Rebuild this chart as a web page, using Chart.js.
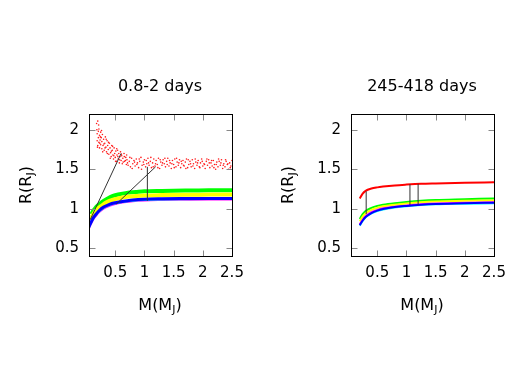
<!DOCTYPE html>
<html>
<head>
<meta charset="utf-8">
<script src="https://cdn.jsdelivr.net/npm/chart.js@4.4.0/dist/chart.umd.min.js"></script>
<style>
  html, body { margin: 0; padding: 0; background: #fff; }
  #wrap { position: relative; width: 525px; height: 392px; overflow: hidden; font-family: "DejaVu Sans", sans-serif; color: #000; }
  .pane { position: absolute; top: 0; width: 262px; height: 392px; }
  .lbl { position: absolute; font-size: 16px; line-height: 1; white-space: nowrap; transform: translate(-50%, -50%); }
  .lbl.rot { transform: translate(-50%, -50%) rotate(-90deg); }
  .lbl sub { font-size: 11px; vertical-align: -3px; line-height: 0; }
</style>
</head>
<body>
<div id="wrap">
  <div class="pane" style="left:0"><canvas id="left" width="262" height="392"></canvas></div>
  <div class="pane" style="left:262px"><canvas id="right" width="262" height="392"></canvas></div>
  <div class="lbl" id="t0" style="left:160px;top:86px"></div>
  <div class="lbl" id="t1" style="left:422px;top:86px"></div>
  <div class="lbl" style="left:160px;top:305px">M(M<sub>J</sub>)</div>
  <div class="lbl" style="left:422px;top:305px">M(M<sub>J</sub>)</div>
  <div class="lbl rot" style="left:26px;top:185px">R(R<sub>J</sub>)</div>
  <div class="lbl rot" style="left:288px;top:185px">R(R<sub>J</sub>)</div>
</div>
<script>
// panel titles and ticks
var titles = ['0.8-2 days', '245-418 days'];
var xTicks = [0.5, 1, 1.5, 2, 2.5];
var yTicks = [0.5, 1, 1.5, 2];

// left panel: red cloud [M, R]
var leftRed = [
  [0.18,2.08],[0.19,1.95],[0.19,1.86],[0.20,2.11],[0.20,1.80],[0.21,1.98],[0.21,1.90],[0.22,1.84],[0.22,2.01],[0.23,1.77],
  [0.23,1.93],[0.24,1.87],[0.25,1.97],[0.25,1.81],[0.26,1.90],[0.27,1.76],[0.27,1.85],[0.28,1.94],[0.29,1.80],[0.30,1.88],
  [0.31,1.74],[0.32,1.83],[0.33,1.91],[0.34,1.78],[0.35,1.72],[0.36,1.86],[0.37,1.80],[0.38,1.75],[0.39,1.69],[0.40,1.83],
  [0.41,1.77],[0.42,1.71],[0.43,1.66],[0.44,1.80],[0.45,1.74],[0.46,1.68],[0.47,1.63],[0.48,1.77],[0.49,1.70],[0.50,1.65],
  [0.51,1.73],[0.52,1.60],[0.53,1.68],[0.54,1.74],[0.55,1.63],[0.56,1.70],[0.57,1.58],[0.58,1.66],[0.59,1.72],[0.60,1.61],
  [0.61,1.67],[0.62,1.57],[0.63,1.64],[0.65,1.70],[0.66,1.60],[0.68,1.65],[0.69,1.56],
  [0.185,2.00],[0.195,1.78],[0.215,2.06],[0.235,1.83],[0.245,1.91],[0.265,1.99],[0.285,1.72],[0.305,1.82],[0.325,1.77],
  [0.345,1.88],[0.365,1.70],[0.385,1.84],[0.415,1.64],[0.435,1.73],[0.455,1.79],[0.475,1.67],[0.505,1.60],[0.525,1.76],
  [0.545,1.66],[0.575,1.62],[0.605,1.69],[0.635,1.59],[0.655,1.66],[0.675,1.61],[0.695,1.68],
  [0.70,1.62],[0.72,1.55],[0.74,1.60],[0.76,1.53],[0.78,1.64],[0.80,1.57],[0.82,1.61],[0.84,1.54],[0.86,1.63],[0.88,1.58],
  [0.90,1.52],[0.92,1.60],[0.94,1.65],[0.96,1.55],[0.98,1.59],[1.00,1.62],[1.02,1.53],[1.04,1.57],[1.06,1.64],[1.08,1.55],
  [1.10,1.60],[1.12,1.52],[1.14,1.58],[1.16,1.63],[1.18,1.54],[1.20,1.61],[1.22,1.56],[1.24,1.64],[1.26,1.51],[1.28,1.59],
  [1.30,1.55],[1.32,1.62],[1.34,1.57],[1.36,1.53],[1.38,1.60],[1.40,1.64],[1.42,1.54],[1.44,1.58],[1.46,1.51],[1.48,1.61],
  [1.50,1.56],[1.52,1.63],[1.54,1.53],[1.56,1.59],[1.58,1.55],[1.60,1.62],[1.62,1.52],[1.64,1.57],[1.66,1.61],[1.68,1.54],
  [1.70,1.59],[1.72,1.63],[1.74,1.52],[1.76,1.56],[1.78,1.60],[1.80,1.53],[1.82,1.62],[1.84,1.57],[1.86,1.51],[1.88,1.59],
  [1.90,1.55],[1.92,1.61],[1.94,1.53],[1.96,1.58],[1.98,1.63],[2.00,1.54],[2.02,1.57],[2.04,1.51],[2.06,1.60],[2.08,1.55],
  [2.10,1.62],[2.12,1.52],[2.14,1.58],[2.16,1.54],[2.18,1.61],[2.20,1.56],[2.22,1.50],[2.24,1.59],[2.26,1.53],[2.28,1.60],
  [2.30,1.55],[2.32,1.62],[2.34,1.51],[2.36,1.57],[2.38,1.53],[2.40,1.60],[2.42,1.56],[2.44,1.50],[2.46,1.58],[2.48,1.54],
  [2.50,1.61],
  [0.71,1.58],[0.75,1.65],[0.79,1.51],[0.83,1.59],[0.87,1.56],[0.91,1.63],[0.95,1.50],[0.99,1.56],[1.03,1.61],[1.07,1.58],
  [1.11,1.65],[1.15,1.53],[1.19,1.57],[1.23,1.52],[1.27,1.62],[1.31,1.58],[1.35,1.64],[1.39,1.56],[1.43,1.61],[1.47,1.57],
  [1.51,1.52],[1.55,1.64],[1.59,1.58],[1.63,1.60],[1.67,1.55],[1.71,1.51],[1.75,1.62],[1.79,1.57],[1.83,1.54],[1.87,1.63],
  [1.91,1.58],[1.95,1.52],[1.99,1.60],[2.03,1.56],[2.07,1.63],[2.11,1.58],[2.15,1.61],[2.19,1.52],[2.23,1.56],[2.27,1.63],
  [2.31,1.58],[2.35,1.55],[2.39,1.62],[2.43,1.57],[2.47,1.52]
];

// left panel: dense bands [M, R]
var leftGreen = [[0.09,0.93],[0.12,0.97],[0.15,1.00],[0.2,1.04],[0.265,1.08],[0.35,1.12],[0.45,1.16],[0.55,1.18],[0.7,1.20],
  [0.85,1.21],[1.0,1.22],[1.3,1.225],[1.7,1.23],[2.1,1.232],[2.5,1.235]];
var leftYellow = [[0.07,0.86],[0.1,0.90],[0.14,0.95],[0.2,1.00],[0.27,1.04],[0.35,1.08],[0.45,1.11],[0.55,1.13],[0.7,1.15],
  [0.85,1.16],[1.0,1.167],[1.3,1.172],[1.7,1.176],[2.1,1.178],[2.5,1.18]];
var leftBlue = [[0.05,0.77],[0.08,0.82],[0.12,0.88],[0.17,0.93],[0.23,0.98],[0.3,1.02],[0.4,1.055],[0.5,1.075],[0.65,1.095],
  [0.8,1.11],[1.0,1.12],[1.3,1.125],[1.7,1.128],[2.1,1.13],[2.5,1.13]];
var leftMagenta = [[0.05,0.75],[0.08,0.80],[0.12,0.86],[0.17,0.91],[0.23,0.96],[0.3,1.0],[0.4,1.035],[0.5,1.06],[0.65,1.08],
  [0.8,1.095],[1.0,1.105],[1.3,1.11],[1.7,1.113],[2.1,1.115],[2.5,1.115]];
var leftCyan = [[0.05,0.76],[0.08,0.81],[0.12,0.87],[0.17,0.92],[0.23,0.97],[0.3,1.01],[0.4,1.045],[0.5,1.067],[0.65,1.088],
  [0.8,1.10],[1.0,1.11],[1.3,1.116],[1.7,1.12],[2.1,1.122],[2.5,1.122]];
var leftSegs = [
  [[0.07,0.86],[0.6,1.70]],
  [[0.52,1.06],[1.19,1.53]],
  [[1.05,1.10],[1.05,1.53]]
];

// right panel: curves
var rightX = [0.2, 0.25, 0.3, 0.4, 0.5, 0.6, 0.8, 1.0, 1.25, 1.5, 2.0, 2.5];
var rightRed = [1.13, 1.19, 1.225, 1.255, 1.27, 1.28, 1.295, 1.305, 1.315, 1.32, 1.328, 1.335];
var rightGreen = [0.87, 0.93, 0.97, 1.01, 1.035, 1.05, 1.07, 1.085, 1.10, 1.11, 1.12, 1.13];
var rightYellow = [0.84, 0.90, 0.94, 0.985, 1.01, 1.03, 1.05, 1.065, 1.08, 1.09, 1.10, 1.105];
var rightMagenta = [0.80, 0.86, 0.905, 0.955, 0.985, 1.005, 1.025, 1.04, 1.055, 1.065, 1.075, 1.08];
var rightBlue = [0.79, 0.85, 0.895, 0.945, 0.975, 0.995, 1.02, 1.035, 1.05, 1.06, 1.07, 1.075];
var rightCyan = [0.785, 0.845, 0.89, 0.94, 0.97, 0.99, 1.015, 1.03, 1.045, 1.055, 1.063, 1.068];
var rightBars = [[0.31, 0.93, 1.22], [1.06, 1.045, 1.31], [1.2, 1.05, 1.315]];

document.getElementById('t0').textContent = titles[0];
document.getElementById('t1').textContent = titles[1];

function pts(arr) { return arr.map(function(p){ return {x: p[0], y: p[1]}; }); }
function zip(xs, ys) { return xs.map(function(x, i){ return {x: x, y: ys[i]}; }); }

function band(data, color, width) {
  return { data: data, showLine: true, borderColor: color, borderWidth: width, pointRadius: 0,
           cubicInterpolationMode: 'monotone' };
}
function seg(data) {
  return { data: data, showLine: true, borderColor: '#333', borderWidth: 1, pointRadius: 0 };
}

// inward ticks on all four sides + frame, like gnuplot
var frameTicks = {
  id: 'frameTicks',
  afterDraw: function(chart) {
    var ctx = chart.ctx, a = chart.chartArea;
    var xs = chart.scales.x, ys = chart.scales.y;
    var l = Math.round(a.left) + 0.5, r = Math.round(a.right) + 0.5;
    var t = Math.round(a.top) + 0.5, b = Math.round(a.bottom) + 0.5;
    ctx.save();
    ctx.lineWidth = 1;
    ctx.strokeStyle = '#888';
    ctx.beginPath();
    xs.ticks.forEach(function(tk){
      var px = Math.round(xs.getPixelForValue(tk.value)) + 0.5;
      ctx.moveTo(px, b); ctx.lineTo(px, b - 6);
      ctx.moveTo(px, t); ctx.lineTo(px, t + 6);
    });
    ys.ticks.forEach(function(tk){
      var py = Math.round(ys.getPixelForValue(tk.value)) + 0.5;
      ctx.moveTo(l, py); ctx.lineTo(l + 6, py);
      ctx.moveTo(r, py); ctx.lineTo(r - 6, py);
    });
    ctx.stroke();
    ctx.strokeStyle = '#000';
    ctx.strokeRect(l, t, r - l, b - t);
    ctx.restore();
  }
};

function makeOptions() {
  var tickFont = { family: 'DejaVu Sans', size: 15 };
  return {
    responsive: false,
    animation: false,
    layout: { padding: { left: 0, right: 30, top: 114, bottom: 0 } },
    plugins: {
      legend: { display: false },
      tooltip: { enabled: false },
      title: { display: false }
    },
    scales: {
      x: {
        type: 'linear', min: 0.05, max: 2.5,
        grid: { display: false, drawTicks: false }, border: { display: false },
        afterBuildTicks: function(s){ s.ticks = xTicks.map(function(v){ return {value: v}; }); },
        afterFit: function(s){ s.height = 136; },
        ticks: { color: '#000', font: tickFont, padding: 8, maxRotation: 0, autoSkip: false,
                 callback: function(v){ return String(v); } }
      },
      y: {
        type: 'linear', min: 0.4, max: 2.2,
        grid: { display: false, drawTicks: false }, border: { display: false },
        afterBuildTicks: function(s){ s.ticks = yTicks.map(function(v){ return {value: v}; }); },
        afterFit: function(s){ s.width = 89; },
        ticks: { color: '#000', font: tickFont, padding: 10,
                 callback: function(v){ return String(v); } }
      }
    }
  };
}

var leftSets = leftSegs.map(function(s){ return seg(pts(s)); });
leftSets.push({ data: pts(leftRed), showLine: false, pointRadius: 0.8, pointBorderWidth: 0,
                pointBackgroundColor: '#ff1a1a' });
leftSets.push(band(pts(leftBlue), '#0000ff', 3));
leftSets.push(band(pts(leftCyan), '#00ffff', 2));
leftSets.push(band(pts(leftMagenta), '#ff00ff', 2));
leftSets.push(band(pts(leftYellow), '#ffff00', 4));
leftSets.push(band(pts(leftGreen), '#00ff00', 4));

new Chart(document.getElementById('left'), {
  type: 'scatter',
  data: { datasets: leftSets },
  options: makeOptions(),
  plugins: [frameTicks]
});

var rightSets = rightBars.map(function(b){ return seg([{x: b[0], y: b[1]}, {x: b[0], y: b[2]}]); });
rightSets.push(band(zip(rightX, rightBlue), '#0000ff', 2));
rightSets.push(band(zip(rightX, rightMagenta), '#ff00ff', 2));
rightSets.push(band(zip(rightX, rightCyan), '#00ffff', 2));
rightSets.push(band(zip(rightX, rightYellow), '#ffff00', 2));
rightSets.push(band(zip(rightX, rightGreen), '#00ff00', 2));
rightSets.push(band(zip(rightX, rightRed), '#ff0000', 2));

new Chart(document.getElementById('right'), {
  type: 'scatter',
  data: { datasets: rightSets },
  options: makeOptions(),
  plugins: [frameTicks]
});
</script>
</body>
</html>
